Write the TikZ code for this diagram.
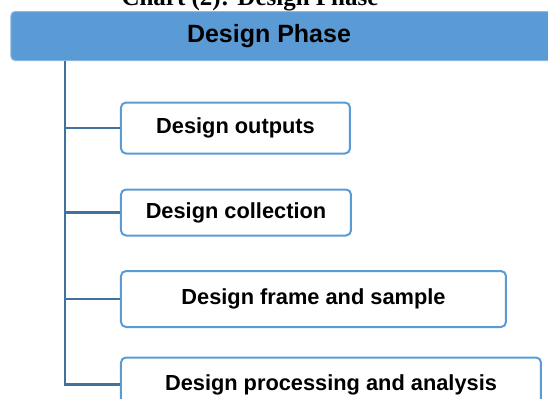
\documentclass[tikz,border=0pt]{standalone}
\usepackage{fontspec}
\setmainfont{Liberation Sans}
\newfontfamily\captionfont{Liberation Serif}
\usetikzlibrary{positioning}
\definecolor{phaseblue}{HTML}{5B9BD5}
\definecolor{spineblue}{HTML}{41719C}

\begin{document}
\begin{tikzpicture}[x=0.5pt,y=-0.5pt,
    box/.style={draw=phaseblue, line width=1pt, rounded corners=2.5pt,
      fill=white, inner sep=0pt, anchor=west,
      font=\fontsize{10.9}{13}\selectfont\bfseries},
    link/.style={draw=spineblue, line width=1.2pt}]
  \clip (0,0) rectangle (548,398);
  % caption, cut off by the top edge
  \node [anchor=base, font=\captionfont\bfseries\fontsize{12.5}{15}\selectfont]
    (caption) at (250,5) {Chart (2): Design Phase};

  % phase header
  \node [fill=phaseblue, draw=phaseblue!70!white, line width=0.5pt,
    rounded corners=2pt, minimum width=274.5pt, minimum height=24.5pt,
    label={[xshift=-8.25pt, font=\fontsize{12.5}{15}\selectfont\bfseries]center:Design Phase}]
    (phase) at (285.5,36) {};

  % steps
  \node [box, minimum width=114.5pt, minimum height=25.5pt] (outputs) at (120,128) {Design outputs};
  \node [box, minimum width=115pt, minimum height=23pt] (collection) at (120,212.5) {Design collection};
  \node [box, minimum width=192.5pt, minimum height=28pt] (frame) at (120,299) {Design frame and sample};
  \node [box, minimum width=210pt, minimum height=27pt] (processing) at (120,384.5) {Design processing and analysis};

  % spine and branches
  \coordinate (spine) at (65,60.5);
  \draw [link] (spine) |- (processing.west);
  \foreach \step in {outputs,collection,frame}
    \draw [link] (spine |- \step.west) -- (\step.west);
\end{tikzpicture}
\end{document}
